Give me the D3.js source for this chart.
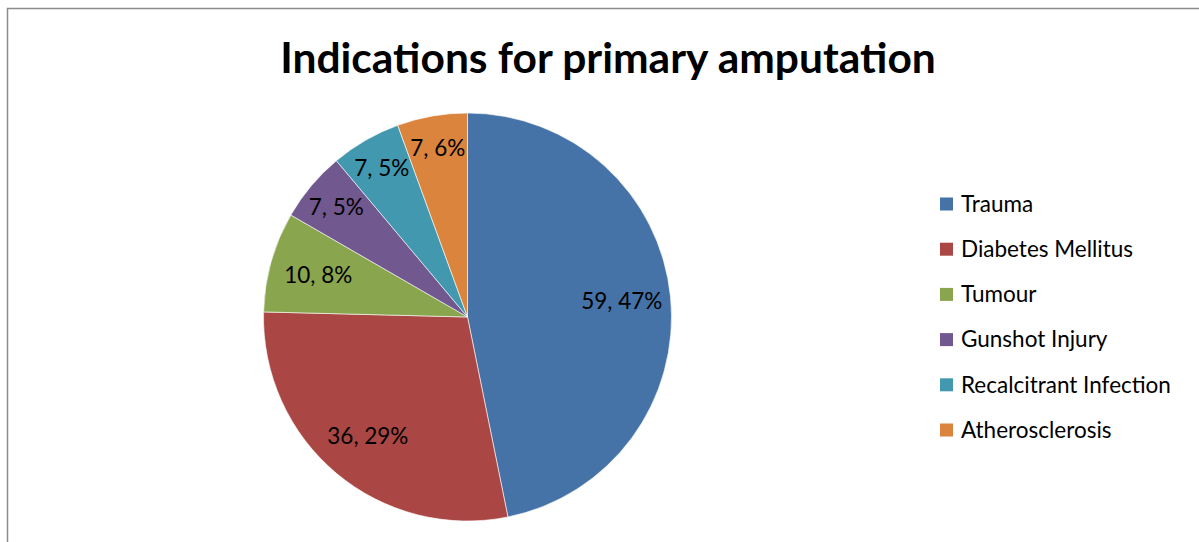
<!DOCTYPE html>
<html>
<head>
<meta charset="utf-8">
<script src="https://cdn.jsdelivr.net/npm/d3@7"></script>
<style>
  body { margin: 0; background: #fff; }
  text { font-family: Lato, "Noto Sans", sans-serif; }
</style>
</head>
<body>
<script>
// counts per indication
var categories = ["Trauma", "Diabetes Mellitus", "Tumour", "Gunshot Injury", "Recalcitrant Infection", "Atherosclerosis"];
var counts = [59, 36, 10, 7, 7, 7];
// percentages as printed on the labels
var pctLabels = ["47%", "29%", "8%", "5%", "5%", "6%"];
var colors = ["#4572A7", "#AA4643", "#89A54E", "#71588F", "#4198AF", "#DB843D"];

var width = 1199, height = 542;
var svg = d3.select("body").append("svg")
  .attr("width", width)
  .attr("height", height);

// chart frame
svg.append("rect")
  .attr("x", 7.5).attr("y", 8.5)
  .attr("width", 1300).attr("height", 600)
  .attr("fill", "none")
  .attr("stroke", "#8c8c8c")
  .attr("stroke-width", 1.5);

svg.append("text")
  .attr("x", 608).attr("y", 73)
  .attr("text-anchor", "middle")
  .style("font-weight", "bold")
  .style("font-size", "42.5px")
  .text("Indications for primary amputation");

var cx = 467.5, cy = 317, r = 204;

var pie = d3.pie().sort(null).value(function(d) { return d; });
var arcs = pie(counts);
var arc = d3.arc().innerRadius(0).outerRadius(r);
// thin slices get their label pushed further out, like excel's best fit
var labelArc = d3.arc().innerRadius(r * 0.76).outerRadius(r * 0.76);
var outerLabelArc = d3.arc().innerRadius(r * 0.84).outerRadius(r * 0.84);

var g = svg.append("g").attr("transform", "translate(" + cx + "," + cy + ")");

g.selectAll("path")
  .data(arcs)
  .enter()
  .append("path")
    .attr("d", arc)
    .attr("fill", function(d, i) { return colors[i]; })
    .attr("stroke", "#fff")
    .attr("stroke-width", 0.6);

g.selectAll("text.lbl")
  .data(arcs)
  .enter()
  .append("text")
    .attr("class", "lbl")
    .attr("transform", function(d) {
      var a = (d.endAngle - d.startAngle) < 0.45 ? outerLabelArc : labelArc;
      return "translate(" + a.centroid(d) + ")";
    })
    .attr("text-anchor", "middle")
    .attr("dy", "0.35em")
    .style("font-size", "22.5px")
    .text(function(d, i) { return d.data + ", " + pctLabels[i]; });

// legend
var legend = svg.selectAll("g.leg")
  .data(categories)
  .enter()
  .append("g")
    .attr("class", "leg")
    .attr("transform", function(d, i) { return "translate(940," + (204 + i * 45.2) + ")"; });

legend.append("rect")
  .attr("x", 0).attr("y", -6.5)
  .attr("width", 13).attr("height", 13)
  .attr("fill", function(d, i) { return colors[i]; });

legend.append("text")
  .attr("x", 21)
  .attr("dy", "0.35em")
  .style("font-size", "22.5px")
  .text(function(d) { return d; });
</script>
</body>
</html>
